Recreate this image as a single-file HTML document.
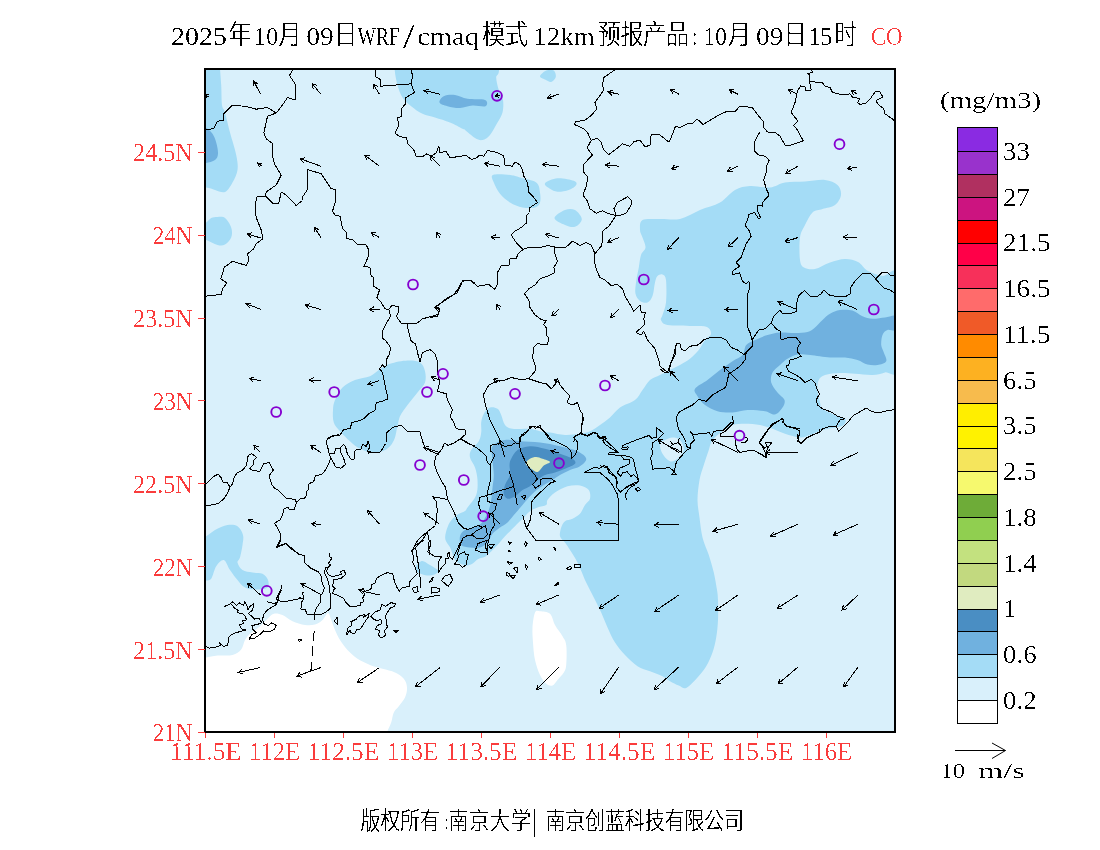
<!DOCTYPE html><html><head><meta charset="utf-8"><title>WRF/cmaq CO</title>
<style>html,body{margin:0;padding:0;background:#fff}svg{display:block}text{filter:url(#al);font-family:"Liberation Serif","Noto Serif CJK SC",serif}.ax{fill:#fa3c3c;font-size:25px}.cb{fill:#000;font-size:25px}.ti{fill:#000;font-size:25px}.ft{fill:#000;font-size:20px}.cj{font-family:"Liberation Serif","Noto Sans CJK SC",sans-serif;font-size:23px;font-weight:300;filter:url(#al2)}.sl{font-family:"DejaVu Sans Light","DejaVu Sans","Liberation Sans",sans-serif;font-weight:200;font-size:28px;fill:#000}.ft.cj{font-size:20px;font-weight:300}</style></head><body>
<svg width="1100" height="850" viewBox="0 0 1100 850">
<rect width="1100" height="850" fill="#fff"/>
<defs><filter id="al" x="-5%" y="-20%" width="110%" height="140%" color-interpolation-filters="sRGB"><feComponentTransfer><feFuncA type="discrete" tableValues="0 0 0 1 1"/></feComponentTransfer></filter><filter id="al2" x="-5%" y="-20%" width="110%" height="140%" color-interpolation-filters="sRGB"><feComponentTransfer><feFuncA type="discrete" tableValues="0 0 1 1 1 1"/></feComponentTransfer></filter></defs>
<defs><clipPath id="cp"><rect x="205" y="69" width="690" height="663"/></clipPath></defs>
<g clip-path="url(#cp)">
<rect x="205" y="69" width="690" height="663" fill="#d9f0fb"/>
<path d="M206.2,657.5 C208.8,657.2 213.1,655.9 217.5,655.5 C221.9,655.1 228.5,656.0 232.5,655.0 C236.5,654.0 239.2,652.0 241.2,649.5 C243.3,647.0 243.5,642.6 245.0,640.0 C246.5,637.4 247.5,636.0 250.0,633.8 C252.5,631.5 257.1,628.8 260.0,626.2 C262.9,623.8 265.2,620.8 267.5,618.8 C269.8,616.7 271.2,614.4 273.8,613.8 C276.2,613.1 279.4,613.8 282.5,615.0 C285.6,616.2 288.8,619.6 292.5,621.2 C296.2,622.9 301.2,624.5 305.0,625.0 C308.8,625.5 312.1,625.3 315.0,624.5 C317.9,623.7 320.3,621.9 322.5,620.0 C324.7,618.1 326.5,613.0 328.0,613.0 C329.5,613.0 330.1,617.2 331.2,620.0 C332.4,622.8 333.5,626.7 335.0,630.0 C336.5,633.3 337.9,636.7 340.0,640.0 C342.1,643.3 344.6,646.9 347.5,650.0 C350.4,653.1 353.8,656.2 357.5,658.8 C361.2,661.2 365.8,663.3 370.0,665.0 C374.2,666.7 378.3,667.5 382.5,668.8 C386.7,670.0 391.5,670.8 395.0,672.5 C398.5,674.2 401.8,676.2 403.8,678.8 C405.8,681.2 406.8,684.4 407.0,687.5 C407.2,690.6 406.4,694.4 405.0,697.5 C403.6,700.6 400.6,703.8 398.8,706.2 C396.9,708.8 395.0,709.8 393.8,712.5 C392.5,715.2 392.3,719.4 391.2,722.5 C390.2,725.6 388.2,729.0 387.5,731.2 C386.8,733.5 417.9,735.2 387.0,736.0 C356.1,736.8 232.8,749.1 202.0,736.0 C171.2,722.9 201.3,670.6 202.0,657.5 C202.7,644.4 203.7,657.8 206.2,657.5Z" fill="#ffffff"/>
<path d="M535.0,612.5 C536.2,609.8 537.5,611.0 540.0,611.2 C542.5,611.5 547.5,611.5 550.0,613.8 C552.5,616.0 552.9,621.2 555.0,625.0 C557.1,628.8 560.6,632.9 562.5,636.2 C564.4,639.6 565.6,640.2 566.2,645.0 C566.9,649.8 566.7,660.4 566.2,665.0 C565.8,669.6 565.2,670.0 563.8,672.5 C562.3,675.0 559.4,677.8 557.5,680.0 C555.6,682.2 554.4,684.9 552.5,685.5 C550.6,686.1 548.3,685.5 546.2,683.8 C544.2,682.0 541.9,679.0 540.0,675.0 C538.1,671.0 536.2,665.4 535.0,660.0 C533.8,654.6 533.4,647.9 533.0,642.5 C532.6,637.1 532.2,632.5 532.5,627.5 C532.8,622.5 533.8,615.2 535.0,612.5Z" fill="#ffffff"/>
<path d="M642.5,220.0 C645.8,218.2 653.8,219.2 660.0,219.0 C666.2,218.8 673.3,220.5 680.0,219.0 C686.7,217.5 693.3,212.8 700.0,210.0 C706.7,207.2 714.2,205.8 720.0,202.5 C725.8,199.2 730.0,192.8 735.0,190.0 C740.0,187.2 744.2,186.4 750.0,186.0 C755.8,185.6 764.2,188.1 770.0,187.5 C775.8,186.9 779.2,183.5 785.0,182.5 C790.8,181.5 798.3,181.9 805.0,181.5 C811.7,181.1 819.6,179.4 825.0,180.0 C830.4,180.6 834.8,182.5 837.5,185.0 C840.2,187.5 841.4,191.7 841.0,195.0 C840.6,198.3 838.1,202.7 835.0,205.0 C831.9,207.3 826.2,207.8 822.5,209.0 C818.8,210.2 815.4,209.8 812.5,212.5 C809.6,215.2 807.1,220.8 805.0,225.0 C802.9,229.2 800.8,231.7 800.0,237.5 C799.2,243.3 799.3,255.0 800.0,260.0 C800.7,265.0 801.5,266.0 804.0,267.5 C806.5,269.0 810.7,269.8 815.0,269.0 C819.3,268.2 825.0,264.2 830.0,262.5 C835.0,260.8 840.3,259.1 845.0,259.0 C849.7,258.9 854.2,260.0 858.0,262.0 C861.8,264.0 863.9,268.7 868.0,271.0 C872.1,273.3 877.3,275.0 882.5,276.0 C887.7,277.0 896.2,262.0 899.0,277.0 C901.8,292.0 901.3,350.1 899.0,366.0 C896.7,381.9 889.4,371.0 885.0,372.5 C880.6,374.0 877.5,374.8 872.5,375.0 C867.5,375.2 860.4,374.1 855.0,373.8 C849.6,373.4 845.0,372.8 840.0,373.0 C835.0,373.2 828.5,373.8 825.0,375.0 C821.5,376.2 820.0,377.5 818.8,380.0 C817.5,382.5 817.3,386.2 817.5,390.0 C817.7,393.8 819.2,399.4 820.0,402.5 C820.8,405.6 820.0,406.7 822.5,408.8 C825.0,410.8 831.2,413.3 835.0,415.0 C838.8,416.7 843.5,417.1 845.0,418.8 C846.5,420.4 845.4,423.5 843.8,425.0 C842.1,426.5 838.5,426.7 835.0,427.5 C831.5,428.3 826.7,428.8 822.5,430.0 C818.3,431.2 813.8,433.8 810.0,435.0 C806.2,436.2 804.2,437.7 800.0,437.5 C795.8,437.3 789.6,435.2 785.0,433.8 C780.4,432.3 776.7,430.2 772.5,428.8 C768.3,427.3 764.6,425.8 760.0,425.0 C755.4,424.2 749.6,423.8 745.0,423.8 C740.4,423.8 736.2,423.8 732.5,425.0 C728.8,426.2 725.8,428.8 722.5,431.2 C719.2,433.8 714.8,436.9 712.5,440.0 C710.2,443.1 710.2,445.8 708.8,450.0 C707.3,454.2 705.3,460.0 703.8,465.0 C702.2,470.0 700.5,474.2 699.5,480.0 C698.5,485.8 697.5,493.8 697.5,500.0 C697.5,506.2 698.7,511.2 699.5,517.5 C700.3,523.8 701.0,531.2 702.5,537.5 C704.0,543.8 706.9,549.2 708.8,555.0 C710.6,560.8 712.4,566.7 713.8,572.5 C715.1,578.3 716.3,585.4 717.0,590.0 C717.7,594.6 717.8,595.0 718.0,600.0 C718.2,605.0 718.3,613.8 718.0,620.0 C717.7,626.2 717.2,632.1 716.2,637.5 C715.3,642.9 714.2,647.7 712.5,652.5 C710.8,657.3 708.8,662.1 706.2,666.2 C703.8,670.4 700.8,673.9 697.5,677.5 C694.2,681.1 689.4,686.7 686.2,688.0 C683.1,689.3 681.5,686.6 678.8,685.5 C676.0,684.4 672.7,682.8 670.0,681.2 C667.3,679.7 665.8,677.9 662.5,676.2 C659.2,674.6 654.2,672.9 650.0,671.2 C645.8,669.6 641.7,669.0 637.5,666.2 C633.3,663.5 628.8,659.0 625.0,655.0 C621.2,651.0 617.9,647.1 615.0,642.5 C612.1,637.9 609.8,632.5 607.5,627.5 C605.2,622.5 603.5,617.5 601.2,612.5 C599.0,607.5 596.2,602.5 593.8,597.5 C591.2,592.5 589.0,588.3 586.2,582.5 C583.5,576.7 580.2,567.9 577.5,562.5 C574.8,557.1 572.1,553.3 570.0,550.0 C567.9,546.7 566.7,544.8 565.0,542.5 C563.3,540.2 560.6,538.8 560.0,536.2 C559.4,533.8 560.4,530.0 561.2,527.5 C562.1,525.0 563.1,522.7 565.0,521.2 C566.9,519.8 570.0,520.0 572.5,518.8 C575.0,517.5 577.9,516.0 580.0,513.8 C582.1,511.5 583.3,507.5 585.0,505.0 C586.7,502.5 589.4,501.2 590.0,498.8 C590.6,496.2 590.4,492.2 588.8,490.0 C587.1,487.8 583.5,486.1 580.0,485.5 C576.5,484.9 571.7,485.1 567.5,486.2 C563.3,487.4 558.3,490.2 555.0,492.5 C551.7,494.8 549.0,497.9 547.5,500.0 C546.0,502.1 547.9,503.8 546.2,505.0 C544.6,506.2 540.2,506.5 537.5,507.5 C534.8,508.5 532.5,509.4 530.0,511.2 C527.5,513.1 525.0,516.2 522.5,518.8 C520.0,521.2 517.9,523.3 515.0,526.2 C512.1,529.2 507.9,533.1 505.0,536.2 C502.1,539.4 500.0,542.3 497.5,545.0 C495.0,547.7 492.0,550.6 490.0,552.5 C488.0,554.4 487.5,555.3 485.5,556.4 C483.5,557.5 480.3,557.8 478.2,559.0 C476.1,560.2 474.5,562.5 472.7,563.6 C470.9,564.7 469.4,565.5 467.3,565.5 C465.2,565.5 462.1,564.7 460.0,563.6 C457.9,562.5 455.7,560.5 454.5,559.0 C453.3,557.5 453.4,556.5 452.7,554.5 C451.9,552.5 451.2,549.7 450.0,547.3 C448.8,544.9 446.2,542.5 445.5,540.0 C444.8,537.5 445.2,535.0 446.0,532.0 C446.8,529.0 448.2,524.8 450.0,522.0 C451.8,519.2 454.5,516.8 457.0,515.0 C459.5,513.2 463.2,512.2 465.0,511.0 C466.8,509.8 465.6,510.2 467.5,507.5 C469.4,504.8 474.6,499.6 476.2,495.0 C477.9,490.4 477.7,484.6 477.5,480.0 C477.3,475.4 476.2,471.2 475.0,467.5 C473.8,463.8 470.6,460.4 470.0,457.5 C469.4,454.6 469.8,452.7 471.2,450.0 C472.7,447.3 477.1,444.2 478.8,441.2 C480.4,438.3 480.8,435.6 481.2,432.5 C481.7,429.4 480.8,425.6 481.2,422.5 C481.7,419.4 482.3,416.2 483.8,413.8 C485.2,411.2 487.7,408.3 490.0,407.5 C492.3,406.7 495.6,407.5 497.5,408.8 C499.4,410.0 500.0,412.3 501.2,415.0 C502.5,417.7 503.1,422.7 505.0,425.0 C506.9,427.3 508.3,428.1 512.5,428.8 C516.7,429.4 525.4,428.3 530.0,428.8 C534.6,429.2 536.7,430.6 540.0,431.2 C543.3,431.9 545.8,431.9 550.0,432.5 C554.2,433.1 560.0,434.8 565.0,435.0 C570.0,435.2 575.8,434.4 580.0,433.8 C584.2,433.1 586.7,432.7 590.0,431.2 C593.3,429.8 596.7,427.3 600.0,425.0 C603.3,422.7 606.7,420.4 610.0,417.5 C613.3,414.6 615.8,410.4 620.0,407.5 C624.2,404.6 631.2,402.9 635.0,400.0 C638.8,397.1 640.0,393.3 642.5,390.0 C645.0,386.7 647.1,382.5 650.0,380.0 C652.9,377.5 656.7,376.7 660.0,375.0 C663.3,373.3 666.7,371.7 670.0,370.0 C673.3,368.3 676.7,366.9 680.0,365.0 C683.3,363.1 686.9,361.2 690.0,358.8 C693.1,356.2 696.2,353.1 698.8,350.0 C701.2,346.9 703.0,342.7 705.0,340.0 C707.0,337.3 710.7,336.2 711.0,334.0 C711.3,331.8 710.1,328.3 707.0,327.0 C703.9,325.7 699.1,326.3 692.5,326.0 C685.9,325.7 672.8,326.0 667.5,325.0 C662.2,324.0 661.8,321.7 661.0,320.0 C660.2,318.3 661.7,317.9 662.5,315.0 C663.3,312.1 665.4,308.3 666.0,302.5 C666.6,296.7 666.6,284.7 666.0,280.0 C665.4,275.3 663.9,275.2 662.5,274.5 C661.1,273.8 658.8,274.7 657.5,276.0 C656.2,277.3 655.8,279.2 655.0,282.5 C654.2,285.8 653.8,292.7 652.5,296.0 C651.2,299.3 649.6,301.7 647.5,302.5 C645.4,303.3 642.0,302.5 640.0,301.0 C638.0,299.5 636.2,296.8 635.5,293.8 C634.8,290.7 635.5,286.9 636.0,282.5 C636.5,278.1 637.9,272.1 638.8,267.5 C639.6,262.9 639.9,258.3 641.0,255.0 C642.1,251.7 645.2,250.4 645.5,247.5 C645.8,244.6 643.4,240.4 642.5,237.5 C641.6,234.6 640.0,232.9 640.0,230.0 C640.0,227.1 639.2,221.8 642.5,220.0Z" fill="#a4dcf6"/>
<path d="M219.0,40.0 C224.0,44.7 219.6,60.5 220.0,68.0 C220.4,75.5 220.9,78.8 221.2,85.0 C221.6,91.2 221.4,100.4 222.0,105.0 C222.6,109.6 223.7,107.9 225.0,112.5 C226.3,117.1 228.1,125.4 230.0,132.5 C231.9,139.6 235.0,148.8 236.2,155.0 C237.5,161.2 238.1,165.4 237.5,170.0 C236.9,174.6 234.6,178.8 232.5,182.5 C230.4,186.2 227.9,190.8 225.0,192.0 C222.1,193.2 218.1,190.8 215.0,190.0 C211.9,189.2 210.4,187.9 206.2,187.5 C202.1,187.1 192.7,212.1 190.0,187.5 C187.3,162.9 185.2,64.6 190.0,40.0 C194.8,15.4 214.0,35.3 219.0,40.0Z" fill="#a4dcf6"/>
<path d="M202.0,224.0 C202.7,221.1 204.7,223.5 206.2,222.5 C207.8,221.5 209.4,218.9 211.2,218.0 C213.1,217.1 215.2,217.0 217.5,217.0 C219.8,217.0 222.7,216.2 225.0,218.0 C227.3,219.8 230.2,224.2 231.2,227.5 C232.3,230.8 232.3,234.7 231.2,237.5 C230.2,240.3 227.3,243.2 225.0,244.5 C222.7,245.8 220.6,245.8 217.5,245.0 C214.4,244.2 208.8,240.8 206.2,240.0 C203.7,239.2 202.7,242.7 202.0,240.0 C201.3,237.3 201.3,226.9 202.0,224.0Z" fill="#a4dcf6"/>
<path d="M394.0,40.0 C376.4,44.7 393.9,60.5 394.5,68.0 C395.1,75.5 396.2,80.1 397.5,85.0 C398.8,89.9 400.2,94.0 402.5,97.5 C404.8,101.0 407.9,103.5 411.2,106.2 C414.6,109.0 418.5,111.9 422.5,113.8 C426.5,115.6 430.4,116.0 435.0,117.5 C439.6,119.0 445.4,120.6 450.0,122.5 C454.6,124.4 460.0,127.5 462.5,128.8 C465.0,130.0 462.9,128.5 465.0,130.0 C467.1,131.5 472.1,136.3 475.0,138.0 C477.9,139.7 480.0,140.5 482.5,140.0 C485.0,139.5 487.5,137.9 490.0,135.0 C492.5,132.1 495.4,126.2 497.5,122.5 C499.6,118.8 501.6,116.2 502.5,112.5 C503.4,108.8 503.6,103.8 503.0,100.0 C502.4,96.2 499.9,93.8 498.8,90.0 C497.6,86.2 496.2,80.8 496.2,77.5 C496.3,74.2 498.4,76.8 499.0,70.5 C499.6,64.2 517.5,45.1 500.0,40.0 C482.5,34.9 411.6,35.3 394.0,40.0Z" fill="#a4dcf6"/>
<path d="M540.0,76.2 C540.2,74.8 544.0,71.5 546.2,70.5 C548.5,69.5 552.2,69.4 553.8,70.5 C555.3,71.6 556.2,75.1 555.8,77.0 C555.3,78.9 553.0,81.6 551.2,82.0 C549.5,82.4 546.9,80.5 545.0,79.5 C543.1,78.5 539.8,77.8 540.0,76.2Z" fill="#a4dcf6"/>
<path d="M493.0,175.0 C495.7,173.8 505.5,174.6 510.0,175.0 C514.5,175.4 515.6,176.2 520.0,177.5 C524.4,178.8 532.9,180.0 536.2,182.5 C539.6,185.0 539.4,189.2 540.0,192.5 C540.6,195.8 540.8,200.0 540.0,202.5 C539.2,205.0 537.9,206.7 535.0,207.5 C532.1,208.3 526.7,208.3 522.5,207.5 C518.3,206.7 513.8,204.8 510.0,202.5 C506.2,200.2 502.7,197.1 500.0,193.8 C497.3,190.4 494.9,185.6 493.8,182.5 C492.6,179.4 490.3,176.2 493.0,175.0Z" fill="#a4dcf6"/>
<path d="M545.0,183.2 C546.2,181.5 552.7,178.7 557.5,178.2 C562.3,177.8 570.6,179.6 573.8,180.8 C576.9,181.9 577.1,183.5 576.2,185.0 C575.4,186.5 571.9,188.9 568.8,190.0 C565.6,191.1 560.6,192.0 557.5,191.8 C554.4,191.5 552.1,190.2 550.0,188.8 C547.9,187.3 543.8,185.0 545.0,183.2Z" fill="#a4dcf6"/>
<path d="M554.5,218.0 C554.5,215.5 561.6,211.3 565.0,210.0 C568.4,208.7 572.2,208.5 575.0,210.0 C577.8,211.5 581.8,216.5 581.8,219.2 C581.8,222.0 577.8,225.8 575.0,226.8 C572.2,227.7 568.4,226.5 565.0,225.0 C561.6,223.5 554.5,220.5 554.5,218.0Z" fill="#a4dcf6"/>
<path d="M378.8,370.0 C382.1,367.9 385.2,365.3 390.0,363.8 C394.8,362.2 402.5,360.7 407.5,360.5 C412.5,360.3 417.1,360.7 420.0,362.5 C422.9,364.3 424.2,367.9 425.0,371.2 C425.8,374.6 426.2,379.0 425.0,382.5 C423.8,386.0 420.4,388.8 417.5,392.5 C414.6,396.2 410.4,401.0 407.5,405.0 C404.6,409.0 401.7,412.5 400.0,416.2 C398.3,420.0 397.9,426.0 397.5,427.5 C397.1,429.0 397.9,423.3 397.5,425.0 C397.1,426.7 396.2,434.0 395.0,437.5 C393.8,441.0 392.1,444.0 390.0,446.2 C387.9,448.5 385.4,450.2 382.5,451.2 C379.6,452.3 376.2,452.9 372.5,452.5 C368.8,452.1 363.8,450.6 360.0,448.8 C356.2,446.9 353.3,444.2 350.0,441.2 C346.7,438.3 342.7,434.4 340.0,431.2 C337.3,428.1 334.9,426.0 333.8,422.5 C332.6,419.0 332.8,413.8 333.0,410.0 C333.2,406.2 333.4,403.8 335.0,400.0 C336.6,396.2 339.2,390.8 342.5,387.5 C345.8,384.2 350.4,381.9 355.0,380.0 C359.6,378.1 366.0,377.9 370.0,376.2 C374.0,374.6 375.4,372.1 378.8,370.0Z" fill="#a4dcf6"/>
<path d="M202.0,536.0 C202.7,528.5 204.1,537.2 206.2,536.2 C208.4,535.2 211.5,531.9 215.0,530.0 C218.5,528.1 223.8,525.6 227.5,525.0 C231.2,524.4 234.9,524.6 237.5,526.2 C240.1,527.9 242.2,531.9 243.0,535.0 C243.8,538.1 243.0,541.2 242.5,545.0 C242.0,548.8 240.8,554.6 240.0,557.5 C239.2,560.4 237.1,560.4 237.5,562.5 C237.9,564.6 240.0,568.3 242.5,570.0 C245.0,571.7 249.2,571.9 252.5,572.5 C255.8,573.1 259.9,572.5 262.5,573.8 C265.1,575.0 267.2,577.7 268.0,580.0 C268.8,582.3 269.2,585.9 267.5,587.5 C265.8,589.1 261.2,589.5 257.5,589.5 C253.8,589.5 248.3,589.1 245.0,587.5 C241.7,585.9 240.0,582.9 237.5,580.0 C235.0,577.1 232.3,573.3 230.0,570.0 C227.7,566.7 226.0,560.6 223.8,560.0 C221.5,559.4 218.3,563.1 216.2,566.2 C214.2,569.4 212.9,576.4 211.2,578.8 C209.6,581.1 207.8,580.1 206.2,580.5 C204.7,580.9 202.7,588.4 202.0,581.0 C201.3,573.6 201.3,543.5 202.0,536.0Z" fill="#a4dcf6"/>
<path d="M415.5,567.3 C416.4,565.6 419.6,561.5 421.8,561.0 C424.1,560.5 426.6,563.2 429.0,564.5 C431.4,565.8 434.7,567.9 436.4,569.0 C438.1,570.1 439.3,570.1 439.0,571.0 C438.7,571.9 436.4,573.8 434.5,574.5 C432.6,575.2 429.7,575.6 427.3,575.5 C424.9,575.4 421.8,574.4 420.0,573.6 C418.2,572.9 417.1,572.0 416.4,571.0 C415.6,570.0 414.6,569.0 415.5,567.3Z" fill="#a4dcf6"/>
<path d="M660.0,443.8 C660.4,441.5 662.9,441.0 665.0,440.0 C667.1,439.0 670.0,437.5 672.5,437.5 C675.0,437.5 678.1,437.9 680.0,440.0 C681.9,442.1 684.2,446.9 683.8,450.0 C683.3,453.1 679.8,456.9 677.5,458.8 C675.2,460.6 672.5,462.1 670.0,461.2 C667.5,460.4 664.2,456.7 662.5,453.8 C660.8,450.8 659.6,446.0 660.0,443.8Z" fill="#d9f0fb"/>
<path d="M896.2,316.2 C894.4,314.2 889.0,317.1 885.0,317.5 C881.0,317.9 876.2,319.0 872.5,318.8 C868.8,318.5 865.8,317.6 862.5,316.2 C859.2,314.9 856.2,311.5 852.5,310.5 C848.8,309.5 843.8,309.5 840.0,310.0 C836.2,310.5 832.9,312.1 830.0,313.8 C827.1,315.4 825.0,317.7 822.5,320.0 C820.0,322.3 817.5,325.5 815.0,327.5 C812.5,329.5 810.8,331.1 807.5,332.0 C804.2,332.9 799.6,332.9 795.0,333.0 C790.4,333.1 784.6,332.2 780.0,332.5 C775.4,332.8 771.7,333.8 767.5,335.0 C763.3,336.2 758.5,338.3 755.0,340.0 C751.5,341.7 748.3,342.5 746.2,345.0 C744.2,347.5 744.8,352.3 742.5,355.0 C740.2,357.7 736.2,358.8 732.5,361.2 C728.8,363.8 724.2,366.9 720.0,370.0 C715.8,373.1 711.7,376.9 707.5,380.0 C703.3,383.1 696.7,386.0 695.0,388.8 C693.3,391.5 695.8,393.5 697.5,396.2 C699.2,399.0 701.7,402.5 705.0,405.0 C708.3,407.5 712.9,410.0 717.5,411.2 C722.1,412.5 727.5,412.7 732.5,412.5 C737.5,412.3 742.1,410.2 747.5,410.0 C752.9,409.8 760.4,410.5 765.0,411.2 C769.6,412.0 772.1,415.1 775.0,414.5 C777.9,413.9 780.9,409.9 782.5,407.5 C784.1,405.1 785.3,402.5 784.5,400.0 C783.7,397.5 779.7,395.4 777.5,392.5 C775.3,389.6 772.1,385.8 771.2,382.5 C770.4,379.2 771.0,375.4 772.5,372.5 C774.0,369.6 777.5,367.3 780.0,365.0 C782.5,362.7 784.6,360.5 787.5,358.8 C790.4,357.0 793.8,355.1 797.5,354.5 C801.2,353.9 804.6,354.5 810.0,355.0 C815.4,355.5 824.2,357.1 830.0,357.5 C835.8,357.9 840.4,357.1 845.0,357.5 C849.6,357.9 853.8,358.8 857.5,360.0 C861.2,361.2 864.2,363.7 867.5,364.5 C870.8,365.3 874.4,365.5 877.5,365.0 C880.6,364.5 885.2,363.3 886.2,361.2 C887.3,359.2 884.6,355.2 883.8,352.5 C882.9,349.8 881.5,347.9 881.2,345.0 C881.0,342.1 881.5,337.5 882.5,335.0 C883.5,332.5 885.2,330.8 887.5,330.0 C889.8,329.2 894.8,332.3 896.2,330.0 C897.7,327.7 898.1,318.3 896.2,316.2Z" fill="#70b1df"/>
<path d="M492.5,446.2 C494.6,442.9 500.4,440.8 505.0,440.0 C509.6,439.2 514.2,440.8 520.0,441.2 C525.8,441.7 533.3,441.7 540.0,442.5 C546.7,443.3 553.8,444.8 560.0,446.2 C566.2,447.7 573.1,449.2 577.5,451.2 C581.9,453.3 585.8,456.2 586.2,458.8 C586.7,461.2 582.7,464.4 580.0,466.2 C577.3,468.1 573.3,468.5 570.0,470.0 C566.7,471.5 562.9,473.3 560.0,475.0 C557.1,476.7 555.8,477.9 552.5,480.0 C549.2,482.1 543.8,484.8 540.0,487.5 C536.2,490.2 532.9,493.3 530.0,496.2 C527.1,499.2 525.0,502.1 522.5,505.0 C520.0,507.9 517.5,510.8 515.0,513.8 C512.5,516.7 510.0,520.2 507.5,522.5 C505.0,524.8 502.5,525.6 500.0,527.5 C497.5,529.4 494.6,531.2 492.5,533.8 C490.4,536.2 489.6,540.2 487.5,542.5 C485.4,544.8 482.9,546.7 480.0,547.5 C477.1,548.3 473.1,547.9 470.0,547.5 C466.9,547.1 462.9,546.9 461.2,545.0 C459.6,543.1 459.4,538.8 460.0,536.2 C460.6,533.8 462.1,531.7 465.0,530.0 C467.9,528.3 474.4,527.9 477.5,526.2 C480.6,524.6 481.9,522.7 483.8,520.0 C485.6,517.3 487.5,513.3 488.8,510.0 C490.0,506.7 490.6,503.8 491.2,500.0 C491.9,496.2 492.1,491.7 492.5,487.5 C492.9,483.3 493.8,479.6 493.8,475.0 C493.8,470.4 492.7,464.8 492.5,460.0 C492.3,455.2 490.4,449.6 492.5,446.2Z" fill="#70b1df"/>
<path d="M202.0,128.0 C202.7,122.2 204.5,127.0 206.2,128.0 C208.0,129.0 210.8,131.3 212.5,133.8 C214.2,136.2 215.3,139.2 216.2,142.5 C217.2,145.8 218.2,150.8 218.0,153.8 C217.8,156.7 217.0,158.5 215.0,160.0 C213.0,161.5 208.4,162.5 206.2,163.0 C204.1,163.5 202.7,168.8 202.0,163.0 C201.3,157.2 201.3,133.8 202.0,128.0Z" fill="#70b1df"/>
<path d="M439.5,102.5 C438.9,100.8 441.2,97.5 443.8,96.2 C446.3,95.0 451.0,94.6 455.0,95.0 C459.0,95.4 462.5,97.9 467.5,98.8 C472.5,99.6 482.0,98.8 485.0,100.0 C488.0,101.2 487.6,105.3 485.5,106.2 C483.4,107.2 476.8,105.2 472.5,105.5 C468.2,105.8 464.2,107.9 460.0,108.0 C455.8,108.1 450.9,107.2 447.5,106.2 C444.1,105.3 440.1,104.2 439.5,102.5Z" fill="#70b1df"/>
<path d="M511.2,458.8 C512.6,456.2 514.4,452.1 517.5,450.0 C520.6,447.9 525.4,446.5 530.0,446.2 C534.6,446.0 540.0,447.5 545.0,448.8 C550.0,450.0 555.4,452.1 560.0,453.8 C564.6,455.4 570.0,457.1 572.5,458.8 C575.0,460.4 576.2,462.1 575.0,463.8 C573.8,465.4 568.3,467.3 565.0,468.8 C561.7,470.2 558.3,471.5 555.0,472.5 C551.7,473.5 547.9,473.8 545.0,475.0 C542.1,476.2 540.0,478.1 537.5,480.0 C535.0,481.9 532.5,484.6 530.0,486.2 C527.5,487.9 525.0,488.3 522.5,490.0 C520.0,491.7 517.5,494.8 515.0,496.2 C512.5,497.7 509.4,499.2 507.5,498.8 C505.6,498.3 504.2,496.0 503.8,493.8 C503.3,491.5 504.0,488.1 505.0,485.0 C506.0,481.9 509.2,478.3 510.0,475.0 C510.8,471.7 509.3,467.7 509.5,465.0 C509.7,462.3 509.9,461.2 511.2,458.8Z" fill="#4a8ec3"/>
<path d="M525.8,463.8 C525.5,462.1 528.2,459.9 530.0,458.8 C531.8,457.6 534.2,457.0 536.2,457.0 C538.3,457.0 540.2,457.9 542.5,458.8 C544.8,459.6 549.8,460.9 550.0,462.0 C550.2,463.1 545.8,463.8 543.8,465.5 C541.7,467.2 539.6,471.5 537.5,472.0 C535.4,472.5 533.2,470.1 531.2,468.8 C529.3,467.4 526.0,465.4 525.8,463.8Z" fill="#e0ecc0"/>
<g fill="none" stroke="#000" stroke-width="1" stroke-linejoin="round" shape-rendering="crispEdges">
<path d="M293.0,69.0 289.5,75.5 295.0,83.8 296.0,90.5 295.5,100.0 287.5,97.5 282.5,105.0 276.2,113.0"/>
<path d="M276.2,113.0 267.5,107.5 256.2,109.2 245.0,106.2 232.0,105.5 223.8,113.8 223.2,120.5 217.5,121.2 213.8,128.8 205.0,129.5"/>
<path d="M276.2,113.0 267.5,116.2 265.5,125.5 263.8,132.5 266.2,138.8 273.0,143.8 272.5,156.2 275.0,165.0 281.2,175.0 276.2,185.0 266.2,192.0 265.5,196.2"/>
<path d="M265.5,196.2 257.0,197.0 255.0,205.0 256.2,217.5 261.2,230.0 263.0,238.8 256.2,243.8 253.8,248.8 247.5,253.8 248.8,260.0 246.2,265.5 232.5,261.2 227.5,265.0 224.2,267.0 222.5,273.8 220.8,278.8 227.0,283.0 222.5,288.8 221.2,294.5 205.0,296.2"/>
<path d="M265.5,196.2 272.5,203.0 278.8,203.0 281.2,192.0 286.2,195.0 296.2,205.5 302.5,200.5 303.0,196.2 308.0,188.8 307.5,169.5 321.2,173.8 331.2,188.8 335.8,189.5 335.8,200.0 332.5,211.2 335.0,215.0 340.0,216.2 342.5,228.8 346.2,232.5 347.0,238.8 352.5,239.5 357.5,244.5 366.2,245.0 368.8,250.0 368.0,257.5 363.8,266.2 370.0,267.5 371.2,276.2 373.8,277.5 373.8,286.2 379.5,290.0 377.0,297.5 381.2,302.5 385.0,308.8 388.8,309.5"/>
<path d="M375.0,69.0 375.8,77.0 380.5,79.5 380.5,86.2 411.2,83.8"/>
<path d="M411.2,69.0 412.5,76.2 411.2,83.8 414.5,92.5 405.0,98.0 405.5,103.8 401.2,108.8 402.0,116.2 397.5,118.0 398.8,125.5 395.0,133.2 400.0,136.8 406.2,137.5 408.0,143.8 413.8,150.0 416.2,156.2 422.5,157.0 426.2,153.8 431.2,156.2 436.2,153.0 438.8,146.2 440.0,153.0 446.2,151.2 450.0,158.0 460.0,156.2 466.2,155.5 471.2,159.2 475.0,158.8"/>
<path d="M475.0,158.8 480.0,155.0 483.8,156.2 487.5,150.5 497.5,152.5 503.8,156.2 505.0,165.0 512.5,166.2 515.0,161.8 520.0,165.0 522.5,170.0 523.8,176.2 527.5,182.5 528.8,192.5 533.8,197.5 537.5,202.5 530.0,207.5 529.5,212.5 526.2,216.2 527.0,222.5 521.2,227.5 515.0,231.2 511.2,235.0 516.2,242.5 523.0,249.5"/>
<path d="M523.0,249.5 518.0,253.8 516.2,258.8 510.0,258.8 509.5,265.0 501.2,265.5 497.5,272.5 498.0,283.8 494.5,289.2 488.8,284.5 477.5,286.2 470.0,280.0 462.5,280.8 457.5,290.0 452.5,295.5 447.5,297.5 440.0,303.8 435.0,307.5 439.5,310.0 437.5,316.2 430.0,317.5"/>
<path d="M523.0,249.5 530.0,247.0 540.0,247.5 547.5,245.5 555.0,247.0 566.2,247.0 572.5,241.2 580.0,245.5 586.2,242.5 591.2,245.0 595.0,253.8"/>
<path d="M595.0,253.8 601.2,246.2 603.0,238.8 602.5,231.2 608.8,226.2 616.2,215.5"/>
<path d="M616.2,215.5 613.8,208.8 617.5,202.5 627.5,196.8 631.2,200.0 631.2,205.0 626.2,213.0 620.0,215.5Z"/>
<path d="M616.2,215.5 608.8,213.8 602.5,210.8 596.2,213.2 590.0,208.8 587.5,201.2 583.0,195.0 586.2,186.2 588.0,177.5 583.0,171.2 583.0,165.0 588.8,158.8 592.5,155.0 587.0,148.0 591.2,140.5"/>
<path d="M591.2,140.5 587.5,132.5 583.8,128.8 574.5,124.5 575.5,122.0 585.0,120.0 591.2,115.5 597.0,108.8 595.0,102.5 603.8,90.0 602.5,85.0 603.8,77.5 616.2,69.0"/>
<path d="M591.2,140.5 597.0,138.0 601.2,142.5 603.8,150.0 608.8,154.5 615.0,150.0 622.5,143.8 630.0,146.2 633.8,141.8 640.0,140.0 645.0,147.0 650.0,145.0 651.2,134.5 660.0,135.0 668.8,142.0"/>
<path d="M668.8,142.0 671.2,137.5 675.5,126.2 680.0,127.5 687.5,123.8 692.0,123.8 697.0,118.8 703.0,124.5 712.5,118.8 721.2,113.8 727.5,111.2 735.0,112.0 738.8,107.0 745.0,106.2 752.5,108.0 758.8,116.2 763.0,121.2 763.8,127.5 767.5,132.0 775.0,132.5 780.0,136.2 785.0,145.0 791.2,145.0 803.2,140.8 797.5,130.0 793.8,125.5 798.0,121.2 791.2,112.5 795.0,102.5 797.5,91.2 800.5,85.8 805.0,87.0 805.5,90.0 811.2,90.0 809.5,81.2 810.0,74.5 807.5,73.8 813.0,72.0 810.0,69.0"/>
<path d="M809.5,81.2 822.5,83.0 825.0,86.2 830.0,87.5 832.5,92.5 843.8,95.0 850.0,93.8 852.5,97.0 860.0,98.8 857.5,102.5 860.0,104.5 866.2,103.0 871.2,97.5 875.0,92.0 879.5,91.2 883.0,97.0 876.2,100.5 877.5,103.8 883.8,108.8 885.0,113.8 893.8,120.0 895.0,123.8"/>
<path d="M759.5,132.5 755.0,141.2 754.5,151.2 758.8,155.0 765.5,156.2 769.2,160.0 767.0,165.0 766.2,172.5 763.8,180.0 766.2,188.8 769.2,195.0 762.5,202.5 762.5,206.2 758.0,205.0 757.5,210.8 760.5,217.5 758.8,218.8 754.5,212.5 748.8,214.5 747.5,220.0 745.0,225.0 749.5,231.2 751.2,236.2 746.2,243.8 743.8,250.0 741.2,257.5 736.2,262.5 739.5,266.2 732.5,271.2 733.0,274.5 739.5,273.0 742.5,281.2 746.2,283.8 748.8,281.2 750.0,286.2 747.5,295.0 747.0,305.0 748.0,315.0 747.0,326.2 750.0,332.5 752.0,340.0"/>
<path d="M388.8,309.5 392.0,305.0 398.8,307.0 398.8,311.2 396.2,316.2 401.2,323.0 407.0,323.8"/>
<path d="M407.0,323.8 417.5,323.0 422.5,318.8 432.5,316.2 438.8,313.8 439.5,308.8 435.0,307.0 443.8,301.2 452.5,295.5 457.5,292.5 462.5,281.2 470.0,280.0 475.0,283.0"/>
<path d="M407.0,323.8 408.8,332.5 411.2,341.2 415.5,343.8 417.5,352.5 420.0,362.0"/>
<path d="M388.8,309.5 390.5,316.2 386.2,323.8 382.5,331.2 382.0,337.5 386.2,341.2 390.5,347.5 389.5,353.8 386.2,360.0 387.0,365.0 384.5,367.0 382.5,365.0 379.5,368.8 382.5,372.5 385.0,385.0 388.0,398.8 382.5,401.2 376.2,402.5 375.0,410.5 368.8,413.8 363.8,418.8 357.5,421.2 351.2,422.5 350.8,428.8 343.8,429.2 340.0,435.0 332.5,435.5 327.0,440.0"/>
<path d="M420.0,362.0 422.5,352.5 430.0,349.5 435.0,353.8 438.0,362.5 437.5,372.5 439.5,382.5 437.5,391.2 446.2,393.8 447.5,400.0 452.5,410.0 450.0,416.2 453.8,422.5 456.2,428.8 465.0,430.0 465.0,435.0 460.0,438.8 468.8,443.8 475.0,446.2"/>
<path d="M386.2,442.0 387.0,432.5 392.5,427.5 401.2,425.0 407.5,431.2 420.0,432.0 422.5,441.2 425.0,447.5 431.2,451.2 437.0,453.8"/>
<path d="M555.0,247.0 554.5,252.5 557.5,261.2 553.8,267.5 555.0,272.5 547.5,276.2 540.0,278.8 535.0,285.0 528.8,288.8 524.5,293.8 528.8,300.0 530.0,307.5 535.0,315.0 541.2,319.5 546.2,320.8 543.8,324.5 547.0,328.8 546.2,335.0 548.8,337.5 547.5,344.5 537.5,343.8 533.8,347.5 532.5,357.5 535.0,365.0 535.0,371.2 528.8,378.8"/>
<path d="M528.8,378.8 520.0,379.5 511.2,377.5 505.0,380.0 496.2,381.2 488.8,385.0 483.2,395.0 486.2,407.5 490.0,420.0 495.0,430.0 500.0,440.0"/>
<path d="M528.8,378.8 540.0,382.5 546.2,383.8 551.2,388.8 555.0,384.5 557.5,378.8 560.0,385.0 566.2,392.5 570.0,396.2 567.0,402.5 572.5,405.0 577.5,402.5 580.0,410.0 583.0,415.0 581.2,430.0 582.5,435.0"/>
<path d="M520.0,442.0 521.2,435.0 528.8,430.0 530.0,426.2 540.0,427.5 547.5,435.0 552.5,441.2"/>
<path d="M573.8,442.0 575.0,436.2 580.0,433.8 587.5,436.2 595.0,432.0 600.0,437.5 605.0,436.2 606.2,442.0"/>
<path d="M595.0,253.8 594.5,262.5 597.0,271.2 600.0,277.5 605.0,280.0 611.2,285.5 617.5,284.5 622.5,288.8 625.0,296.2 628.8,302.5 633.8,311.2 640.0,305.0 641.2,312.5 645.5,312.5 643.8,318.8 645.0,323.8 636.2,332.5 641.2,335.0 643.8,331.2 647.5,340.0 655.0,348.8 658.8,360.0 660.0,366.2 667.5,372.5"/>
<path d="M667.5,372.5 670.0,365.0 673.8,355.0 676.2,343.8 680.0,343.8 681.2,348.8 685.0,351.2 690.0,346.2 697.5,345.0 705.0,338.8"/>
<path d="M752.0,340.0 758.8,330.0 765.0,328.8 771.2,323.0 773.8,316.2 780.0,310.0 782.5,313.8 790.0,313.8 797.0,311.2 796.2,305.0 798.8,295.5 804.5,290.5 810.0,296.2 816.2,297.0 821.2,293.8 823.8,290.0 830.0,295.5 835.0,296.2 845.0,297.0 850.0,293.8 850.5,287.5 855.0,281.2 862.0,273.8 870.0,273.0 875.5,278.8 883.8,288.0 888.8,289.5 895.0,293.0"/>
<path d="M875.5,278.8 882.0,272.5 887.5,272.5 890.0,275.0 895.0,275.0"/>
<path d="M771.2,323.0 776.2,328.8 780.0,331.2 781.2,340.0 785.0,338.8 790.0,337.0 796.2,337.5 800.5,343.0 797.5,347.5 798.0,352.5 801.2,356.2 795.0,358.8 790.0,360.0 788.8,365.0 786.2,366.2 788.8,371.2 795.0,374.5 800.0,377.5 805.0,382.5 811.2,379.5 815.0,383.0 817.5,390.0 819.5,393.8 816.2,400.0 817.5,405.0 822.5,408.8 831.2,412.0 837.5,416.2 845.0,418.8 840.0,420.0 836.2,426.2 838.8,431.2 842.5,427.5 847.5,422.5 853.8,415.0 858.8,412.5 866.2,408.0 871.2,411.2 877.5,413.0 885.0,411.2 895.0,409.5"/>
<path d="M836.2,426.2 830.0,426.2 822.5,428.8 820.0,432.0 812.5,435.0 805.0,438.8 802.5,442.0"/>
<path d="M797.5,442.0 800.0,431.2 796.2,428.8 786.2,426.2 783.8,422.5 782.5,418.8 777.5,421.2 770.0,427.5 763.8,436.2 760.0,442.0"/>
<path d="M752.0,340.0 752.5,346.2 746.2,352.5 745.0,360.0 741.2,365.0 735.0,370.0 728.8,373.8 727.5,380.0 725.5,387.5 718.8,391.2 712.5,395.0 706.2,401.2 698.8,399.5 692.5,405.0 685.0,408.8 678.8,412.5 676.2,417.5 677.5,425.0 678.8,430.0 682.5,435.0 686.2,442.0"/>
<path d="M660.0,368.8 665.0,373.0 668.8,372.5 671.2,362.5 675.5,353.8 676.2,343.8 680.0,343.8 681.2,348.8 685.0,351.2 690.0,346.2 697.5,345.5 705.0,339.2 711.2,337.5 720.0,337.0 726.2,340.0 731.2,347.5 737.5,350.0 743.8,354.5 746.2,352.5"/>
<path d="M204.5,506.4 210.9,505.1 218.2,503.6 223.6,499.1 227.3,493.6 230.0,487.3 232.7,483.6 234.5,476.4 237.3,472.7 242.7,470.0 246.4,465.5 248.2,455.5 251.8,453.6 256.4,457.3 253.1,460.9 253.6,464.5 249.5,468.2 252.7,470.5 260.0,471.3 263.6,463.6 269.1,462.7 273.3,470.0 270.0,474.5 269.6,478.2 271.8,484.5 274.5,488.2 278.2,490.0 286.4,498.2 292.7,499.1 295.5,500.0 296.4,502.7"/>
<path d="M204.5,485.5 210.0,480.0 213.6,476.4 218.2,474.2 221.8,478.5 222.2,481.8 227.3,482.7 230.0,487.3"/>
<path d="M296.4,502.7 300.0,499.1 304.5,498.2 306.4,495.5 306.4,491.8 308.5,489.1 309.1,483.6 313.6,481.8 315.5,475.5 321.8,474.5 325.5,470.0 328.2,464.5 330.9,458.2"/>
<path d="M330.9,458.2 329.1,453.6 328.2,449.1 326.4,442.7 327.3,438.2 332.7,436.4 339.1,434.5"/>
<path d="M329.5,453.6 334.5,453.6 335.5,448.2 340.0,448.2 340.9,452.7 343.6,458.2 345.5,464.5 340.9,468.2 335.5,466.9 333.6,462.7 330.9,458.2"/>
<path d="M340.0,448.2 343.6,444.5 345.5,446.4 347.3,453.6 350.9,459.1 354.2,459.1 354.5,451.8 356.0,450.0 360.9,449.1 362.7,444.5 366.4,446.4 368.2,440.9 370.0,447.3 367.3,450.9 370.9,452.7 379.1,452.7 381.8,450.0 385.5,443.6"/>
<path d="M296.4,502.7 294.5,509.1 289.1,509.1 288.2,507.3 283.6,509.1 282.7,514.5 280.0,520.0 274.5,523.3 277.3,527.3 280.0,532.7 280.0,541.8 277.3,546.4 285.5,543.6 289.1,547.3 294.5,550.9 298.2,553.6"/>
<path d="M460.9,438.5 454.5,442.7 448.2,445.5 444.5,443.1 441.8,449.1 438.2,454.2"/>
<path d="M430.0,450.9 438.2,454.2 435.5,456.4 434.5,464.5 437.3,472.7 440.9,480.0 445.5,487.3 447.6,499.1 450.9,505.5 455.5,515.5 458.2,522.7 463.6,528.2 468.2,529.5 473.6,527.3 478.2,525.5 482.7,527.3"/>
<path d="M447.6,499.5 432.7,496.7 436.4,501.8 437.3,510.9 436.4,518.2 435.5,525.5 431.8,528.2 427.3,531.8 421.8,536.4 417.3,540.9 414.5,545.5 412.7,550.9 411.8,554.5"/>
<path d="M427.3,531.8 429.1,540.0 428.7,549.1 430.0,554.5"/>
<path d="M414.5,545.5 418.2,543.6 423.6,538.2 427.3,531.8"/>
<path d="M460.9,438.5 469.1,443.6 476.4,447.6 482.7,452.7 486.4,456.4 487.3,462.7 490.0,464.5"/>
<path d="M500.0,439.1 499.6,443.6 494.5,444.5 490.0,445.5 490.0,450.9 492.7,452.7 494.9,454.5 492.7,460.0 490.0,464.5 490.0,472.7 490.0,481.8 488.2,489.1 486.9,495.5"/>
<path d="M480.0,513.6 480.0,509.1 478.5,503.6 480.0,497.3 486.9,495.5 492.7,493.6 499.1,490.9 505.5,489.1 512.7,486.9"/>
<path d="M486.9,495.5 487.3,500.9 490.9,502.7 496.4,503.6 495.5,509.1 492.7,512.7 493.6,518.2 494.2,525.5 490.9,530.9 489.1,538.2 487.3,545.5 487.8,554.5"/>
<path d="M497.3,500.0 499.6,494.5 502.7,494.2 500.9,499.6Z"/>
<path d="M499.6,443.6 504.5,446.4 510.9,445.5 515.5,442.7 511.3,438.5"/>
<path d="M515.5,442.7 519.1,444.0 520.0,437.3 525.5,433.6 529.1,429.1 532.7,426.0 535.5,428.2 540.0,425.5 540.9,429.1 545.5,433.6 548.2,438.2 550.9,440.0 554.5,440.9 560.0,443.6 567.3,447.3 570.9,450.9 571.8,458.2 575.5,454.5 577.3,449.1 577.3,441.8 573.6,437.3 580.9,433.6 587.3,435.5 592.7,432.7 597.3,433.6 598.2,437.3 600.0,438.2"/>
<path d="M580.9,433.6 581.8,425.5 583.6,418.2 582.2,414.9"/>
<path d="M519.1,444.0 520.9,451.8 525.5,461.8 530.0,469.1 534.5,474.5 537.3,479.1 532.7,484.5 535.5,488.2 539.1,485.5 540.9,484.5 540.0,480.0 543.6,478.5 550.9,478.5 555.5,481.5 550.9,482.7 545.5,487.3 540.0,492.7 534.5,498.2 531.8,501.8 531.3,509.1 530.9,518.2 527.3,527.3"/>
<path d="M522.7,514.5 525.5,525.5 527.3,529.1 536.4,540.9 618.9,540.9 618.9,504.7 617.5,494.5 612.9,485.8 608.0,479.3 599.3,472.0 584.0,472.7"/>
<path d="M509.1,470.9 512.7,481.8 515.5,494.5 517.3,505.5"/>
<path d="M521.8,496.4 525.5,495.5 524.5,499.6Z"/>
<path d="M584.0,472.7 594.9,466.9 599.3,468.4 603.6,465.5 607.3,466.9 610.2,471.3 616.0,477.1 616.7,487.3 620.4,492.4 625.5,487.3 632.7,483.6 638.5,481.5"/>
<path d="M482.7,527.3 485.5,525.5 487.3,534.5 483.6,538.2 476.4,538.2 472.7,535.5 467.3,535.5 462.7,538.2 460.0,545.5 457.3,554.5"/>
<path d="M482.7,527.3 476.4,530.9 470.9,535.5"/>
<path d="M685.5,442.7 687.3,447.3 690.9,448.2 690.9,443.6 694.5,440.0 692.7,435.5 690.4,431.3 693.6,434.5 701.8,433.6 709.1,432.7 711.8,436.4 713.6,431.8 718.2,430.0 723.6,430.0 727.3,426.4 730.9,422.7 733.6,422.7 732.4,416.4"/>
<path d="M733.6,422.7 727.3,429.1 723.6,432.7 720.0,433.6 720.9,436.4 734.5,436.4"/>
<path d="M735.5,439.1 736.0,445.5 737.3,450.0 740.0,452.4 747.3,450.9 752.7,450.0 758.2,452.7 763.6,455.5 766.4,457.8 765.5,452.7 762.7,447.3 759.1,442.2 763.6,435.5 768.2,429.1 772.7,423.6 779.1,420.9 782.7,418.2 783.6,422.7 787.3,426.4 792.7,427.3 800.0,429.1"/>
<path d="M744.5,436.4 748.2,439.1 745.5,442.2 740.9,442.2"/>
<path d="M765.5,442.7 771.8,442.4 767.3,448.2Z"/>
<path d="M600.0,439.1 604.5,436.4 605.5,439.1 602.7,440.9 605.5,444.5 610.9,448.2 618.2,452.7 609.1,452.7 608.2,454.5 620.9,455.5 623.6,459.1 629.1,459.1 630.0,463.6 620.0,468.2 617.3,472.7 620.9,476.4 622.7,472.7 627.3,471.8 630.9,476.4 633.6,474.5 637.3,478.2 638.5,480.9 636.4,483.6 630.0,485.5 625.5,488.2 620.0,491.8 616.4,487.3 617.3,481.8 614.5,476.4 609.1,472.7 607.3,468.2 600.0,465.5"/>
<path d="M620.9,455.5 629.1,456.4 632.7,458.2 634.5,463.6 635.5,470.0 637.3,474.5 638.5,480.9"/>
<path d="M626.4,500.0 625.5,494.5 628.2,490.0 631.8,486.4 635.5,485.5"/>
<path d="M635.5,489.1 638.2,487.3 640.9,489.5 637.8,491.3Z"/>
<path d="M621.8,449.1 622.7,445.5 627.3,443.6 636.4,440.0 643.6,437.3 649.1,435.5 651.8,438.2 656.4,437.3 656.7,427.6 663.6,433.6 658.2,439.1 652.7,442.7 651.8,449.1 652.7,453.6 650.5,458.2 651.8,463.6 652.7,469.1 660.0,468.7 669.1,467.6 672.7,470.0 674.2,471.8 671.8,474.9 676.4,474.9 674.2,471.8 676.4,461.8 683.6,453.6 687.3,450.0 690.9,448.2"/>
<path d="M621.8,449.1 627.3,450.0 628.2,446.9 622.7,447.6"/>
<path d="M670.0,440.9 672.7,444.5 678.2,442.7 679.1,438.2"/>
<path d="M672.7,444.5 670.0,447.3 676.4,449.1 681.8,452.7 680.9,445.5 678.2,442.7"/>
<path d="M808.2,436.7 804.5,440.0 800.9,443.6 798.2,440.9 797.6,434.5"/>
<path d="M820.0,428.7 819.1,432.7"/>
<path d="M783.6,419.1 782.7,422.7"/>
<path d="M759.1,441.8 764.5,448.2 767.3,446.4 765.5,442.7 771.8,442.4 768.2,447.3 766.4,451.8 766.0,457.3 759.1,453.6 753.6,450.0 750.0,450.0"/>
<path d="M280.0,540.0 276.4,547.6 286.4,543.6 292.7,549.1 299.1,554.5 304.5,555.5 304.5,562.7 310.9,568.2 318.2,571.8 320.9,575.5 322.2,583.6 324.5,588.2 322.7,592.7 320.9,595.5 320.0,602.7 316.4,608.2 314.5,613.6 314.2,620.0"/>
<path d="M329.5,552.7 330.0,557.3 331.8,558.2 328.2,563.6 330.9,564.5 328.2,567.3 325.5,567.3 324.5,572.7 327.3,578.2 329.1,585.5 330.0,592.7 330.9,601.8 330.5,608.2 326.4,611.8 320.9,614.5 314.5,614.9 307.3,614.9 305.5,610.0 300.9,609.1 301.8,601.8 303.6,599.1 302.7,592.7 304.5,591.8"/>
<path d="M328.2,567.3 326.4,570.9 329.1,575.5 332.7,576.4 341.8,574.5 340.0,571.3 344.5,570.5 345.5,574.5 340.9,578.5 333.6,580.0 332.7,586.4 335.5,588.2 333.6,590.0 332.7,593.6 338.2,595.5 343.6,598.2 345.5,601.8 350.0,606.4 360.0,605.8 360.9,602.7 363.6,601.8 362.7,598.2 364.5,594.5 363.6,591.8 358.2,589.5 363.6,588.7 364.5,591.8 370.9,589.1 371.8,584.5 375.5,582.7 376.4,578.2 380.9,575.5 387.3,572.7 392.7,573.6 394.5,581.8 397.3,588.2 400.0,591.8"/>
<path d="M281.5,585.5 280.9,590.0 278.2,594.5 276.4,599.1 278.2,600.9 279.1,594.5 281.5,590.0"/>
<path d="M278.2,600.9 285.5,601.5 294.5,599.6 301.8,598.2 299.1,597.3 303.6,599.1"/>
<path d="M267.3,601.8 274.5,603.6 277.3,601.8 276.4,604.5 271.8,607.3 267.3,610.0 263.6,614.5 262.7,619.1 263.6,623.6 268.2,625.5 271.8,622.7 276.4,625.5 274.5,629.1 269.1,631.8 263.6,630.9 260.0,634.5 254.5,638.2 249.1,639.1 251.8,634.5 256.4,632.7 252.7,629.1 251.8,625.5 257.3,624.5 261.8,622.7 259.1,618.2 254.5,619.1 250.9,615.5 248.2,613.6 252.7,610.0 253.6,603.6 250.0,606.4 247.6,610.0 246.9,605.5 244.5,601.8 243.6,605.5 239.1,602.7 236.4,605.5 232.7,601.8 229.1,604.5 224.5,606.4 230.9,603.6 234.5,608.2 238.2,610.0 237.3,612.7 242.7,613.6 245.5,616.4 246.4,620.0 242.7,620.9 243.6,623.6 239.1,624.5 241.8,629.1 245.5,630.0 239.1,631.8 233.6,633.6 229.1,636.4 228.2,641.8 227.3,645.5 223.6,646.4 219.1,642.7 220.9,645.5 215.5,647.3 209.1,648.2 204.5,645.5"/>
<path d="M334.2,620.9 337.3,617.3 337.6,624.5Z"/>
<path d="M298.2,639.1 301.5,640.0 299.1,641.5Z"/>
<path d="M314.2,630.9 313.1,640.9"/>
<path d="M312.7,646.4 312.0,656.4"/>
<path d="M311.5,661.8 310.9,671.3"/>
<path d="M346.4,634.5 348.2,627.3 351.8,625.5 350.9,621.8 356.4,619.1 358.2,616.4 364.5,614.5 363.6,617.3 369.1,613.6 368.2,617.3 365.5,620.9 362.7,625.5 360.0,629.1 356.4,630.0 354.5,633.6 350.9,632.7 350.0,630.0 347.3,634.5Z"/>
<path d="M370.9,616.4 375.5,611.8 380.0,610.0 381.8,604.5 385.5,606.4 390.9,602.7 395.5,603.6 394.5,606.4 390.0,608.2 387.3,612.7 385.5,616.4 386.4,621.8 387.3,627.3 384.5,630.9 385.5,635.5 380.9,638.2 378.2,634.5 380.0,630.9 375.5,629.1 377.3,625.5 381.8,623.6 380.9,619.1 377.3,620.9 373.6,619.1Z"/>
<path d="M392.7,630.0 399.1,630.0 396.0,632.4Z"/>
<path d="M423.6,540.0 419.1,543.6 415.5,547.3 411.8,550.9 413.6,557.3 412.7,562.7 415.5,568.2 417.3,573.6 412.7,578.2 409.1,582.7 409.1,586.4 402.7,587.6 400.0,589.5"/>
<path d="M415.5,547.3 417.3,558.2 419.1,569.1 420.4,580.0 420.9,588.2"/>
<path d="M430.0,540.0 430.5,545.5 427.6,551.8 434.5,556.4 441.5,556.7 439.1,560.0 438.5,565.5 438.2,572.7 441.8,567.3 445.5,563.6 445.1,559.1 448.2,558.2 447.6,553.6 449.1,552.7 450.0,557.3 452.7,559.1 456.4,550.9 460.0,543.6 462.7,540.0"/>
<path d="M454.5,564.5 457.8,559.1 459.1,554.5 464.5,551.8 465.5,554.5 468.7,554.2 466.9,560.0 466.4,564.5 462.7,567.3 459.1,564.5Z"/>
<path d="M441.5,580.4 445.5,575.5 450.0,574.5 452.7,580.0 448.2,586.4Z"/>
<path d="M431.3,587.6 439.1,588.2 439.6,591.8 431.8,593.1Z"/>
<path d="M412.4,588.2 417.3,586.4 418.2,591.8 414.2,592.7Z"/>
<path d="M429.1,582.2 433.1,577.3 432.4,580.9Z"/>
<path d="M488.5,545.1 494.5,544.5 490.9,548.7Z"/>
<path d="M487.8,540.0 485.5,540.9 477.8,543.6 475.5,550.0 481.8,552.7 488.2,553.1 485.5,547.3 486.4,540.0"/>
<path d="M508.7,541.8 511.3,542.7 509.5,544.5Z"/>
<path d="M508.2,550.0 510.5,551.3 509.1,552.0Z"/>
<path d="M525.5,541.8 527.3,543.6 525.8,546.4 524.4,544.0Z"/>
<path d="M553.6,547.6 556.0,548.2 555.5,550.9Z"/>
<path d="M538.5,557.3 541.5,559.1 539.1,560.4Z"/>
<path d="M507.6,561.8 512.4,562.7 509.1,564.5Z"/>
<path d="M513.6,568.2 517.8,567.3 517.3,572.7Z"/>
<path d="M525.5,564.5 527.6,566.9 526.5,569.1 525.1,566.9Z"/>
<path d="M506.4,572.7 510.0,573.6 508.7,576.4 506.9,575.5Z"/>
<path d="M510.0,575.5 515.5,575.5 513.1,578.5Z"/>
<path d="M566.4,568.2 570.9,566.4 571.8,568.7 568.2,569.6Z"/>
<path d="M574.9,564.5 580.5,564.2 580.5,567.6 574.9,567.6Z"/>
<path d="M554.5,585.5 559.1,581.8 558.5,584.5Z"/>
</g>
<g fill="none" stroke="#000" stroke-width="1" shape-rendering="crispEdges">
<path d="M260.5,94.2L253.8,81.2M253.4,86.2L253.8,81.2L258.0,83.9"/>
<path d="M320.8,94.2L312.5,83.8M313.1,88.7L312.5,83.8L317.2,85.5"/>
<path d="M379.5,94.2L373.2,84.2M373.3,89.2L373.2,84.2L377.7,86.5"/>
<path d="M440.0,94.2L424.2,90.5M427.8,94.0L424.2,90.5L429.0,89.0"/>
<path d="M262.5,166.2L257.5,163.0M259.6,167.3L257.5,163.0L262.3,163.2"/>
<path d="M320.8,166.2L300.5,158.8M303.6,162.7L300.5,158.8L305.4,157.8"/>
<path d="M379.5,166.2L365.0,155.5M366.9,160.1L365.0,155.5L370.0,156.0"/>
<path d="M440.0,166.2L430.0,156.2M431.2,161.1L430.0,156.2L434.9,157.5"/>
<path d="M260.5,238.0L247.5,233.8M250.8,237.5L247.5,233.8L252.4,232.6"/>
<path d="M320.8,237.5L314.5,227.5M314.6,232.5L314.5,227.5L319.0,229.8"/>
<path d="M379.5,237.5L371.2,233.0M373.8,237.3L371.2,233.0L376.2,232.8"/>
<path d="M440.0,237.5L436.2,232.5M436.8,237.5L436.2,232.5L440.9,234.4"/>
<path d="M500.0,95.0L495.5,96.2M499.1,97.2L495.5,96.2L498.1,93.5"/>
<path d="M558.8,94.2L547.5,98.0M552.4,99.1L547.5,98.0L550.8,94.2"/>
<path d="M618.8,94.2L608.2,91.8M611.8,95.2L608.2,91.8L613.0,90.2"/>
<path d="M678.8,94.2L670.5,89.5M672.9,93.9L670.5,89.5L675.5,89.4"/>
<path d="M500.0,166.2L484.5,163.2M488.2,166.6L484.5,163.2L489.2,161.5"/>
<path d="M558.8,166.2L542.5,164.2M546.4,167.3L542.5,164.2L547.1,162.2"/>
<path d="M618.8,166.2L605.5,165.0M609.5,168.0L605.5,165.0L610.0,162.8"/>
<path d="M678.8,166.2L671.2,168.8M676.1,169.8L671.2,168.8L674.5,165.0"/>
<path d="M500.0,238.0L491.2,237.0M495.2,240.0L491.2,237.0L495.8,234.9"/>
<path d="M558.8,238.0L545.5,234.2M548.9,237.9L545.5,234.2L550.3,232.9"/>
<path d="M618.8,237.5L607.5,242.5M612.5,243.1L607.5,242.5L610.4,238.4"/>
<path d="M678.8,237.5L667.5,249.5M672.3,248.1L667.5,249.5L668.6,244.6"/>
<path d="M738.0,94.2L729.5,90.0M732.2,94.2L729.5,90.0L734.5,89.6"/>
<path d="M797.5,94.2L788.2,89.5M790.9,93.7L788.2,89.5L793.2,89.2"/>
<path d="M857.5,94.2L851.2,90.5M853.6,94.9L851.2,90.5L856.2,90.5"/>
<path d="M738.0,166.2L727.5,171.2M732.5,171.7L727.5,171.2L730.3,167.1"/>
<path d="M798.0,166.2L785.8,173.2M790.7,173.4L785.8,173.2L788.2,168.9"/>
<path d="M857.5,167.0L847.5,168.8M852.2,170.5L847.5,168.8L851.3,165.5"/>
<path d="M738.0,237.5L728.2,247.0M733.1,245.9L728.2,247.0L729.5,242.2"/>
<path d="M798.0,237.5L785.0,241.8M789.9,242.9L785.0,241.8L788.3,238.0"/>
<path d="M857.5,237.5L843.2,237.0M847.4,239.7L843.2,237.0L847.6,234.6"/>
<path d="M261.2,309.5L246.2,303.8M249.3,307.7L246.2,303.8L251.2,302.9"/>
<path d="M320.8,309.5L305.5,305.0M308.9,308.7L305.5,305.0L310.3,303.7"/>
<path d="M379.5,309.5L369.5,309.5M373.8,312.1L369.5,309.5L373.8,306.9"/>
<path d="M439.5,309.5L435.0,307.5M437.3,310.7L435.0,307.5L438.9,307.0"/>
<path d="M261.2,380.8L249.5,378.8M253.3,382.0L249.5,378.8L254.2,376.9"/>
<path d="M320.8,380.0L309.5,380.0M313.8,382.6L309.5,380.0L313.8,377.4"/>
<path d="M379.5,380.5L368.0,384.2M372.9,385.4L368.0,384.2L371.3,380.5"/>
<path d="M439.5,380.0L431.2,377.0M434.4,380.9L431.2,377.0L436.2,376.0"/>
<path d="M500.0,309.5L496.2,304.5M496.8,309.5L496.2,304.5L500.9,306.4"/>
<path d="M558.8,309.5L551.8,315.8M556.7,314.8L551.8,315.8L553.2,311.0"/>
<path d="M618.8,309.5L610.5,317.5M615.4,316.4L610.5,317.5L611.8,312.7"/>
<path d="M678.8,310.0L668.2,310.5M672.7,312.9L668.2,310.5L672.4,307.7"/>
<path d="M500.0,381.2L493.0,379.2M496.4,382.9L493.0,379.2L497.8,378.0"/>
<path d="M558.8,382.0L554.5,380.0M556.6,383.1L554.5,380.0L558.2,379.6"/>
<path d="M618.8,380.8L610.5,375.8M612.8,380.2L610.5,375.8L615.5,375.8"/>
<path d="M678.8,380.8L670.0,371.2M671.0,376.1L670.0,371.2L674.8,372.7"/>
<path d="M738.0,309.5L725.0,309.5M729.3,312.1L725.0,309.5L729.3,306.9"/>
<path d="M797.0,309.5L778.0,301.8M781.0,305.8L778.0,301.8L782.9,301.0"/>
<path d="M857.5,309.5L838.0,301.2M840.9,305.3L838.0,301.2L843.0,300.5"/>
<path d="M738.0,380.8L723.8,366.8M725.0,371.6L723.8,366.8L728.6,367.9"/>
<path d="M798.0,380.8L777.0,373.8M780.3,377.5L777.0,373.8L781.9,372.7"/>
<path d="M857.5,380.8L832.5,377.0M836.4,380.2L832.5,377.0L837.1,375.1"/>
<path d="M260.5,452.5L253.8,445.5M254.9,450.4L253.8,445.5L258.6,446.8"/>
<path d="M320.8,452.5L310.8,445.8M312.9,450.3L310.8,445.8L315.7,446.0"/>
<path d="M439.5,452.5L423.8,447.5M427.1,451.3L423.8,447.5L428.6,446.3"/>
<path d="M260.5,524.2L248.2,520.0M251.5,523.8L248.2,520.0L253.1,519.0"/>
<path d="M320.8,524.2L311.8,523.8M315.9,526.6L311.8,523.8L316.2,521.4"/>
<path d="M379.5,524.2L367.5,510.5M368.4,515.4L367.5,510.5L372.3,512.0"/>
<path d="M439.5,524.2L424.2,513.0M426.2,517.6L424.2,513.0L429.2,513.5"/>
<path d="M260.5,595.0L247.5,583.2M249.0,588.0L247.5,583.2L252.4,584.2"/>
<path d="M320.8,594.5L301.2,583.8M303.8,588.1L301.2,583.8L306.2,583.6"/>
<path d="M379.5,595.0L359.5,590.5M363.1,594.0L359.5,590.5L364.2,588.9"/>
<path d="M439.5,595.0L418.0,599.2M422.7,600.9L418.0,599.2L421.7,595.9"/>
<path d="M504.5,457.0L500.0,440.0M498.6,444.8L500.0,440.0L503.6,443.5"/>
<path d="M558.8,453.0L551.2,450.8M554.6,454.4L551.2,450.8L556.1,449.5"/>
<path d="M618.8,452.5L602.5,437.5M603.9,442.3L602.5,437.5L607.4,438.5"/>
<path d="M678.8,452.5L658.0,439.5M660.3,444.0L658.0,439.5L663.0,439.6"/>
<path d="M500.0,524.2L488.8,513.0M490.0,517.9L488.8,513.0L493.6,514.2"/>
<path d="M558.8,524.2L539.2,512.5M541.6,516.9L539.2,512.5L544.2,512.5"/>
<path d="M618.8,524.2L597.0,522.5M601.1,525.4L597.0,522.5L601.5,520.3"/>
<path d="M678.8,524.2L654.2,525.0M658.6,527.4L654.2,525.0L658.5,522.3"/>
<path d="M500.0,595.0L480.5,602.0M485.4,603.0L480.5,602.0L483.7,598.1"/>
<path d="M558.8,595.0L536.2,604.5M541.2,605.2L536.2,604.5L539.2,600.5"/>
<path d="M618.8,595.0L599.5,608.2M604.5,607.9L599.5,608.2L601.6,603.7"/>
<path d="M678.8,595.0L655.0,611.2M660.0,611.0L655.0,611.2L657.1,606.7"/>
<path d="M738.0,452.5L711.2,439.5M714.0,443.7L711.2,439.5L716.2,439.1"/>
<path d="M798.0,452.5L765.5,452.5M769.8,455.1L765.5,452.5L769.8,449.9"/>
<path d="M858.0,452.5L830.5,465.5M835.5,466.0L830.5,465.5L833.3,461.3"/>
<path d="M738.0,524.2L713.2,531.2M718.1,532.6L713.2,531.2L716.7,527.6"/>
<path d="M798.0,524.2L770.5,536.2M775.5,536.9L770.5,536.2L773.4,532.2"/>
<path d="M858.0,524.2L833.2,535.0M838.2,535.7L833.2,535.0L836.2,530.9"/>
<path d="M738.0,595.0L715.5,610.5M720.5,610.2L715.5,610.5L717.6,605.9"/>
<path d="M798.0,595.0L777.5,608.2M782.5,608.1L777.5,608.2L779.7,603.8"/>
<path d="M858.0,595.0L842.0,610.0M846.9,608.9L842.0,610.0L843.4,605.2"/>
<path d="M260.5,667.5L238.2,672.5M243.0,674.1L238.2,672.5L241.9,669.0"/>
<path d="M320.8,667.5L296.8,676.2M301.7,677.2L296.8,676.2L299.9,672.4"/>
<path d="M379.5,667.5L357.5,682.5M362.5,682.2L357.5,682.5L359.6,678.0"/>
<path d="M440.0,667.5L415.5,686.8M420.5,686.1L415.5,686.8L417.3,682.1"/>
<path d="M500.0,667.0L480.8,686.8M485.6,685.5L480.8,686.8L481.9,681.9"/>
<path d="M558.8,667.0L536.8,689.5M541.6,688.2L536.8,689.5L537.9,684.6"/>
<path d="M618.8,667.0L600.5,693.8M605.0,691.7L600.5,693.8L600.8,688.8"/>
<path d="M678.8,667.0L654.2,689.5M659.1,688.5L654.2,689.5L655.7,684.7"/>
<path d="M738.0,667.0L716.2,683.8M721.2,683.2L716.2,683.8L718.1,679.1"/>
<path d="M798.0,667.0L778.2,683.8M783.2,682.9L778.2,683.8L779.9,679.0"/>
<path d="M858.0,667.0L843.8,686.8M848.3,684.8L843.8,686.8L844.2,681.8"/>
<path d="M371.5,453.5L367.5,451.0M369.2,454.4L367.5,451.0L371.3,451.1"/>
<path d="M209.0,97.0L205.5,95.0M207.1,97.8L205.5,95.0L208.7,94.9"/>
</g>
<g fill="none" stroke="#8500d0" stroke-width="1.9">
<circle cx="497.0" cy="95.8" r="4.9"/>
<circle cx="839.5" cy="144.2" r="4.9"/>
<circle cx="413.0" cy="284.5" r="4.9"/>
<circle cx="334.2" cy="392.0" r="4.9"/>
<circle cx="276.2" cy="412.0" r="4.9"/>
<circle cx="443.0" cy="373.8" r="4.9"/>
<circle cx="427.0" cy="392.0" r="4.9"/>
<circle cx="643.8" cy="279.5" r="4.9"/>
<circle cx="515.0" cy="393.8" r="4.9"/>
<circle cx="605.0" cy="385.5" r="4.9"/>
<circle cx="873.8" cy="309.5" r="4.9"/>
<circle cx="739.5" cy="435.6" r="4.9"/>
<circle cx="420.0" cy="465.0" r="4.9"/>
<circle cx="463.8" cy="480.0" r="4.9"/>
<circle cx="266.8" cy="590.8" r="4.9"/>
<circle cx="483.2" cy="516.2" r="4.9"/>
<circle cx="559.0" cy="463.2" r="4.9"/>
</g>
</g>
<rect x="205" y="69" width="690" height="663" fill="none" stroke="#000" stroke-width="2" shape-rendering="crispEdges"/>
<g stroke="#fa3c3c" stroke-width="1" shape-rendering="crispEdges">
<line x1="205.5" y1="733" x2="205.5" y2="738"/>
<line x1="274.5" y1="733" x2="274.5" y2="738"/>
<line x1="343.5" y1="733" x2="343.5" y2="738"/>
<line x1="412.5" y1="733" x2="412.5" y2="738"/>
<line x1="481.5" y1="733" x2="481.5" y2="738"/>
<line x1="550.5" y1="733" x2="550.5" y2="738"/>
<line x1="619.5" y1="733" x2="619.5" y2="738"/>
<line x1="688.5" y1="733" x2="688.5" y2="738"/>
<line x1="757.5" y1="733" x2="757.5" y2="738"/>
<line x1="826.5" y1="733" x2="826.5" y2="738"/>
<line x1="198" y1="732.5" x2="205" y2="732.5"/>
<line x1="198" y1="649.5" x2="205" y2="649.5"/>
<line x1="198" y1="566.5" x2="205" y2="566.5"/>
<line x1="198" y1="483.5" x2="205" y2="483.5"/>
<line x1="198" y1="400.5" x2="205" y2="400.5"/>
<line x1="198" y1="318.5" x2="205" y2="318.5"/>
<line x1="198" y1="235.5" x2="205" y2="235.5"/>
<line x1="198" y1="152.5" x2="205" y2="152.5"/>
</g>
<text class="ax" x="169.8" y="760.2" textLength="71.4" lengthAdjust="spacingAndGlyphs" xml:space="preserve">111.5E</text>
<text class="ax" x="249.0" y="760.2" textLength="51.0" lengthAdjust="spacingAndGlyphs" xml:space="preserve">112E</text>
<text class="ax" x="307.8" y="760.2" textLength="71.4" lengthAdjust="spacingAndGlyphs" xml:space="preserve">112.5E</text>
<text class="ax" x="387.0" y="760.2" textLength="51.0" lengthAdjust="spacingAndGlyphs" xml:space="preserve">113E</text>
<text class="ax" x="445.8" y="760.2" textLength="71.4" lengthAdjust="spacingAndGlyphs" xml:space="preserve">113.5E</text>
<text class="ax" x="525.0" y="760.2" textLength="51.0" lengthAdjust="spacingAndGlyphs" xml:space="preserve">114E</text>
<text class="ax" x="583.8" y="760.2" textLength="71.4" lengthAdjust="spacingAndGlyphs" xml:space="preserve">114.5E</text>
<text class="ax" x="663.0" y="760.2" textLength="51.0" lengthAdjust="spacingAndGlyphs" xml:space="preserve">115E</text>
<text class="ax" x="721.8" y="760.2" textLength="71.4" lengthAdjust="spacingAndGlyphs" xml:space="preserve">115.5E</text>
<text class="ax" x="801.0" y="760.2" textLength="51.0" lengthAdjust="spacingAndGlyphs" xml:space="preserve">116E</text>
<text class="ax" x="152.8" y="741.4" textLength="39.7" lengthAdjust="spacingAndGlyphs" xml:space="preserve">21N</text>
<text class="ax" x="133.3" y="658.5" textLength="59.2" lengthAdjust="spacingAndGlyphs" xml:space="preserve">21.5N</text>
<text class="ax" x="152.8" y="575.6" textLength="39.7" lengthAdjust="spacingAndGlyphs" xml:space="preserve">22N</text>
<text class="ax" x="133.3" y="492.8" textLength="59.2" lengthAdjust="spacingAndGlyphs" xml:space="preserve">22.5N</text>
<text class="ax" x="152.8" y="409.9" textLength="39.7" lengthAdjust="spacingAndGlyphs" xml:space="preserve">23N</text>
<text class="ax" x="133.3" y="327.0" textLength="59.2" lengthAdjust="spacingAndGlyphs" xml:space="preserve">23.5N</text>
<text class="ax" x="152.8" y="244.2" textLength="39.7" lengthAdjust="spacingAndGlyphs" xml:space="preserve">24N</text>
<text class="ax" x="133.3" y="161.3" textLength="59.2" lengthAdjust="spacingAndGlyphs" xml:space="preserve">24.5N</text>
<g id="title">
<text class="ti" x="171.1" y="44.8" textLength="56.0" lengthAdjust="spacingAndGlyphs" xml:space="preserve">2025</text>
<text class="ti cj" transform="translate(228.6,43.6) scale(1,1.2)" x="0" y="0" textLength="22.8" lengthAdjust="spacing">年</text>
<text class="ti" x="254.1" y="44.8" textLength="24.1" lengthAdjust="spacingAndGlyphs" xml:space="preserve">10</text>
<text class="ti cj" transform="translate(278.6,43.6) scale(1,1.2)" x="0" y="0" textLength="22.8" lengthAdjust="spacing">月</text>
<text class="ti" x="306.3" y="44.8" textLength="27.6" lengthAdjust="spacingAndGlyphs" xml:space="preserve">09</text>
<text class="ti cj" transform="translate(334.3,43.6) scale(1,1.2)" x="0" y="0" textLength="22.8" lengthAdjust="spacing">日</text>
<text class="ti" x="357.5" y="44.8" textLength="42.2" lengthAdjust="spacingAndGlyphs" xml:space="preserve">WRF</text>
<text class="sl" x="402.3" y="45.6" textLength="13.0" lengthAdjust="spacingAndGlyphs" xml:space="preserve">/</text>
<text class="ti" x="417.3" y="44.8" textLength="61.6" lengthAdjust="spacingAndGlyphs" xml:space="preserve">cmaq</text>
<text class="ti cj" transform="translate(482.3,43.6) scale(1,1.2)" x="0" y="0" textLength="45.6" lengthAdjust="spacing">模式</text>
<text class="ti" x="533.2" y="44.8" textLength="61.5" lengthAdjust="spacingAndGlyphs" xml:space="preserve">12km</text>
<text class="ti cj" transform="translate(597.8,43.6) scale(1,1.2)" x="0" y="0" textLength="91.2" lengthAdjust="spacing">预报产品</text>
<text class="ti" x="692.5" y="44.8" textLength="4.6" lengthAdjust="spacingAndGlyphs" xml:space="preserve">:</text>
<text class="ti" x="703.6" y="44.8" textLength="23.1" lengthAdjust="spacingAndGlyphs" xml:space="preserve">10</text>
<text class="ti cj" transform="translate(728.1,43.6) scale(1,1.2)" x="0" y="0" textLength="22.8" lengthAdjust="spacing">月</text>
<text class="ti" x="755.9" y="44.8" textLength="27.5" lengthAdjust="spacingAndGlyphs" xml:space="preserve">09</text>
<text class="ti cj" transform="translate(783.8,43.6) scale(1,1.2)" x="0" y="0" textLength="22.8" lengthAdjust="spacing">日</text>
<text class="ti" x="808.2" y="44.8" textLength="24.1" lengthAdjust="spacingAndGlyphs" xml:space="preserve">15</text>
<text class="ti cj" transform="translate(834.3,43.6) scale(1,1.2)" x="0" y="0" textLength="22.8" lengthAdjust="spacing">时</text>
<text class="ax" x="870.7" y="44.8" textLength="32.0" lengthAdjust="spacingAndGlyphs" style="font-size:25px" xml:space="preserve">CO</text>
</g>
<rect x="957" y="700" width="41" height="24" fill="#ffffff" shape-rendering="crispEdges"/>
<rect x="957" y="677" width="41" height="24" fill="#d9f0fb" shape-rendering="crispEdges"/>
<rect x="957" y="654" width="41" height="24" fill="#a4dcf6" shape-rendering="crispEdges"/>
<rect x="957" y="631" width="41" height="24" fill="#70b1df" shape-rendering="crispEdges"/>
<rect x="957" y="609" width="41" height="23" fill="#4a8ec3" shape-rendering="crispEdges"/>
<rect x="957" y="586" width="41" height="24" fill="#e0ecc0" shape-rendering="crispEdges"/>
<rect x="957" y="563" width="41" height="24" fill="#c2d97f" shape-rendering="crispEdges"/>
<rect x="957" y="540" width="41" height="24" fill="#c3e17f" shape-rendering="crispEdges"/>
<rect x="957" y="517" width="41" height="24" fill="#90cf50" shape-rendering="crispEdges"/>
<rect x="957" y="494" width="41" height="24" fill="#6eac38" shape-rendering="crispEdges"/>
<rect x="957" y="471" width="41" height="24" fill="#f6f96e" shape-rendering="crispEdges"/>
<rect x="957" y="448" width="41" height="24" fill="#f5e55c" shape-rendering="crispEdges"/>
<rect x="957" y="426" width="41" height="23" fill="#fff200" shape-rendering="crispEdges"/>
<rect x="957" y="403" width="41" height="24" fill="#ffee00" shape-rendering="crispEdges"/>
<rect x="957" y="380" width="41" height="24" fill="#f7bb4d" shape-rendering="crispEdges"/>
<rect x="957" y="357" width="41" height="24" fill="#fdb121" shape-rendering="crispEdges"/>
<rect x="957" y="334" width="41" height="24" fill="#ff8b00" shape-rendering="crispEdges"/>
<rect x="957" y="311" width="41" height="24" fill="#f05a28" shape-rendering="crispEdges"/>
<rect x="957" y="288" width="41" height="24" fill="#ff6b6b" shape-rendering="crispEdges"/>
<rect x="957" y="265" width="41" height="24" fill="#f7305a" shape-rendering="crispEdges"/>
<rect x="957" y="243" width="41" height="23" fill="#ff0048" shape-rendering="crispEdges"/>
<rect x="957" y="220" width="41" height="24" fill="#ff0000" shape-rendering="crispEdges"/>
<rect x="957" y="197" width="41" height="24" fill="#cc1480" shape-rendering="crispEdges"/>
<rect x="957" y="174" width="41" height="24" fill="#b03060" shape-rendering="crispEdges"/>
<rect x="957" y="151" width="41" height="24" fill="#9932cc" shape-rendering="crispEdges"/>
<rect x="957" y="127" width="41" height="25" fill="#8a2be2" shape-rendering="crispEdges"/>
<rect x="957" y="723" width="41" height="1" fill="#000" shape-rendering="crispEdges"/>
<rect x="957" y="700" width="41" height="1" fill="#000" shape-rendering="crispEdges"/>
<rect x="957" y="677" width="41" height="1" fill="#000" shape-rendering="crispEdges"/>
<rect x="957" y="654" width="41" height="1" fill="#000" shape-rendering="crispEdges"/>
<rect x="957" y="631" width="41" height="1" fill="#000" shape-rendering="crispEdges"/>
<rect x="957" y="609" width="41" height="1" fill="#000" shape-rendering="crispEdges"/>
<rect x="957" y="586" width="41" height="1" fill="#000" shape-rendering="crispEdges"/>
<rect x="957" y="563" width="41" height="1" fill="#000" shape-rendering="crispEdges"/>
<rect x="957" y="540" width="41" height="1" fill="#000" shape-rendering="crispEdges"/>
<rect x="957" y="517" width="41" height="1" fill="#000" shape-rendering="crispEdges"/>
<rect x="957" y="494" width="41" height="1" fill="#000" shape-rendering="crispEdges"/>
<rect x="957" y="471" width="41" height="1" fill="#000" shape-rendering="crispEdges"/>
<rect x="957" y="448" width="41" height="1" fill="#000" shape-rendering="crispEdges"/>
<rect x="957" y="426" width="41" height="1" fill="#000" shape-rendering="crispEdges"/>
<rect x="957" y="403" width="41" height="1" fill="#000" shape-rendering="crispEdges"/>
<rect x="957" y="380" width="41" height="1" fill="#000" shape-rendering="crispEdges"/>
<rect x="957" y="357" width="41" height="1" fill="#000" shape-rendering="crispEdges"/>
<rect x="957" y="334" width="41" height="1" fill="#000" shape-rendering="crispEdges"/>
<rect x="957" y="311" width="41" height="1" fill="#000" shape-rendering="crispEdges"/>
<rect x="957" y="288" width="41" height="1" fill="#000" shape-rendering="crispEdges"/>
<rect x="957" y="265" width="41" height="1" fill="#000" shape-rendering="crispEdges"/>
<rect x="957" y="243" width="41" height="1" fill="#000" shape-rendering="crispEdges"/>
<rect x="957" y="220" width="41" height="1" fill="#000" shape-rendering="crispEdges"/>
<rect x="957" y="197" width="41" height="1" fill="#000" shape-rendering="crispEdges"/>
<rect x="957" y="174" width="41" height="1" fill="#000" shape-rendering="crispEdges"/>
<rect x="957" y="151" width="41" height="1" fill="#000" shape-rendering="crispEdges"/>
<rect x="957" y="127" width="41" height="1" fill="#000" shape-rendering="crispEdges"/>
<rect x="957" y="127" width="1" height="597" fill="#000" shape-rendering="crispEdges"/><rect x="997" y="127" width="1" height="597" fill="#000" shape-rendering="crispEdges"/>
<text class="cb" x="1003.0" y="708.8" textLength="33.6" lengthAdjust="spacingAndGlyphs" xml:space="preserve">0.2</text>
<text class="cb" x="1003.0" y="663.1" textLength="33.6" lengthAdjust="spacingAndGlyphs" xml:space="preserve">0.6</text>
<text class="cb" x="1003.4" y="617.3">1</text>
<text class="cb" x="1003.0" y="571.6" textLength="33.6" lengthAdjust="spacingAndGlyphs" xml:space="preserve">1.4</text>
<text class="cb" x="1003.0" y="525.8" textLength="33.6" lengthAdjust="spacingAndGlyphs" xml:space="preserve">1.8</text>
<text class="cb" x="1003.0" y="480.1" textLength="33.6" lengthAdjust="spacingAndGlyphs" xml:space="preserve">2.5</text>
<text class="cb" x="1003.0" y="434.3" textLength="33.6" lengthAdjust="spacingAndGlyphs" xml:space="preserve">3.5</text>
<text class="cb" x="1003.0" y="388.6" textLength="33.6" lengthAdjust="spacingAndGlyphs" xml:space="preserve">6.5</text>
<text class="cb" x="1003.0" y="342.8" textLength="47.6" lengthAdjust="spacingAndGlyphs" xml:space="preserve">11.5</text>
<text class="cb" x="1003.0" y="297.1" textLength="47.6" lengthAdjust="spacingAndGlyphs" xml:space="preserve">16.5</text>
<text class="cb" x="1003.0" y="251.3" textLength="47.6" lengthAdjust="spacingAndGlyphs" xml:space="preserve">21.5</text>
<text class="cb" x="1003.0" y="205.6" textLength="26.8" lengthAdjust="spacingAndGlyphs" xml:space="preserve">27</text>
<text class="cb" x="1003.0" y="159.8" textLength="26.8" lengthAdjust="spacingAndGlyphs" xml:space="preserve">33</text>
<text class="cb" x="940.1" y="107.8" textLength="100.9" lengthAdjust="spacingAndGlyphs" style="font-size:22.5px" xml:space="preserve">(mg/m3)</text>
<path d="M955,750.5L1005.5,750.5M992,743L1005.5,750.5L992,758.5" fill="none" stroke="#000" stroke-width="1"/>
<text class="cb" x="940.5" y="778.3" textLength="24.7" lengthAdjust="spacingAndGlyphs" style="font-size:22px" xml:space="preserve">10</text>
<text class="cb" x="978.3" y="778.3" textLength="46.6" lengthAdjust="spacingAndGlyphs" style="font-size:22px" xml:space="preserve">m/s</text>
<text class="ft cj" transform="translate(360.5,828.5) scale(1,1.2)" x="0" y="0" textLength="79.6" lengthAdjust="spacing">版权所有</text>
<text class="ft" x="444.3" y="828.5" textLength="4.4" lengthAdjust="spacingAndGlyphs" xml:space="preserve">:</text>
<text class="ft cj" transform="translate(448.5,828.5) scale(1,1.2)" x="0" y="0" textLength="82.4" lengthAdjust="spacing">南京大学</text>
<text class="sl" x="529.6" y="830.5" style="font-size:29px">|</text>
<text class="ft cj" transform="translate(545.5,828.5) scale(1,1.2)" x="0" y="0" textLength="198.5" lengthAdjust="spacing">南京创蓝科技有限公司</text>
</svg></body></html>
